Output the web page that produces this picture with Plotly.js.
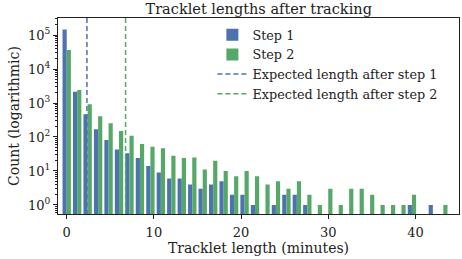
<!DOCTYPE html>
<html>
<head>
<meta charset="utf-8">
<script src="https://cdn.plot.ly/plotly-3.0.1.min.js"></script>
<style>html,body{margin:0;padding:0;background:#fff;}#chart{width:462px;height:259px;}</style>
</head>
<body>
<div id="chart"></div>
<script>
// Bin centres (minutes)
const binCenters = [0,1.2,2.4,3.6,4.8,6,7.2,8.4,9.6,10.8,12,13.2,14.4,15.6,16.8,18,19.2,20.4,21.6,22.8,24,25.2,26.4,27.6,28.8,30,31.2,32.4,33.6,34.8,36,37.2,38.4,39.6,40.8,42,43.2];
// Counts per bin (null = empty bin)
const step1Counts = [145000,2150,465,168,81,43,33,24,14,9,6,6,4,3,4,5,2,2,1,null,1,2,2,1,null,null,null,null,null,null,null,null,null,1,null,1,null];
const step2Counts = [36000,2400,915,405,253,150,109,62,52,47,28,24,25,11,20,10,7,10,7,4,5,3,5,2,1,3,1,3,3,2,1,1,1,2,null,null,1];
const expectedStep1 = 2.32;
const expectedStep2 = 6.75;
const seriesNames = ["Step 1","Step 2","Expected length after step 1","Expected length after step 2"];
const yTickVals = [1,10,100,1000,10000,100000];
const yTickText = ["10<sup>0</sup>","10<sup>1</sup>","10<sup>2</sup>","10<sup>3</sup>","10<sup>4</sup>","10<sup>5</sup>"];

const blue = "#4C72B0", green = "#55A868";
const font = "DejaVu Serif, serif";

const minorVals = [];
for (let d = -1; d <= 5; d++) for (let m = 2; m <= 9; m++) minorVals.push(m * Math.pow(10, d));

const traces = [
  {type:"bar", x:binCenters, y:step1Counts, name:seriesNames[0], marker:{color:blue, line:{width:0}}},
  {type:"bar", x:binCenters, y:step2Counts, name:seriesNames[1], marker:{color:green, line:{width:0}}},
  {type:"scatter", mode:"lines", x:[expectedStep1, expectedStep1], y:[0.1, 1e7], name:seriesNames[2], line:{color:blue, dash:"5px,3px", width:1.5}},
  {type:"scatter", mode:"lines", x:[expectedStep2, expectedStep2], y:[0.1, 1e7], name:seriesNames[3], line:{color:green, dash:"5px,3px", width:1.5}}
];

const layout = {
  width:462, height:259,
  margin:{l:58, r:3, t:18, b:45},
  paper_bgcolor:"#fff", plot_bgcolor:"#fff",
  font:{family:font, size:13, color:"#222"},
  barmode:"group", bargap:0.2, bargroupgap:0,
  showlegend:true,
  title:{text:"Tracklet lengths after tracking", font:{family:font, size:14.5, color:"#222"}, x:0.56, xanchor:"center", y:0.966, yanchor:"middle"},
  xaxis:{range:[-1,45], tickvals:[0,10,20,30,40], ticks:"outside", ticklen:4, tickcolor:"#222",
         showline:true, linecolor:"#222", linewidth:1, mirror:true, showgrid:false, zeroline:false,
         tickfont:{family:font, size:13}, ticklabelstandoff:2,
         title:{text:"Tracklet length (minutes)", font:{family:font, size:14}, standoff:3}},
  yaxis:{type:"log", range:[-0.265,5.5], tickmode:"array", tickvals:yTickVals, ticktext:yTickText,
         ticks:"outside", ticklen:4, tickcolor:"#222",
         minor:{tickmode:"array", tickvals:minorVals, ticks:"outside", ticklen:2, tickcolor:"#222", showgrid:false},
         showline:true, linecolor:"#222", linewidth:1, mirror:true, showgrid:false, zeroline:false,
         tickfont:{family:font, size:13},
         title:{text:"Count (logarithmic)", font:{family:font, size:14}, standoff:5}},
  legend:{x:0.385, xanchor:"left", y:0.99, yanchor:"top", bgcolor:"rgba(0,0,0,0)", borderwidth:0,
          font:{family:font, size:12.8, color:"#222"}, itemwidth:30, tracegroupgap:0}
};

Plotly.newPlot("chart", traces, layout, {displayModeBar:false, staticPlot:true});
</script>
</body>
</html>
